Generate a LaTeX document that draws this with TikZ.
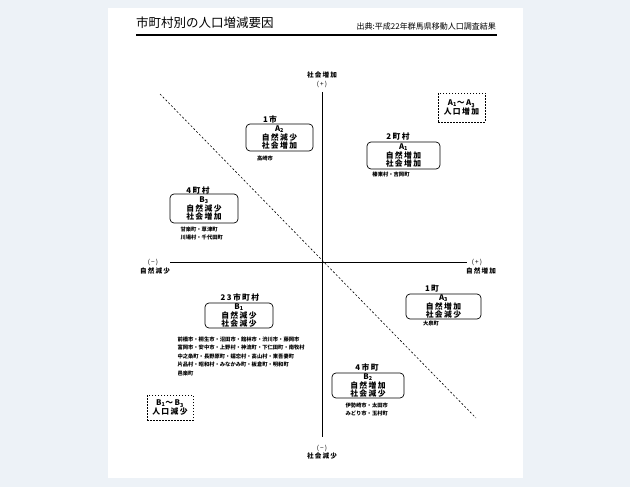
\documentclass[tikz,border=0pt]{standalone}
\usepackage{fontspec}
\usepackage{tikz}
\usetikzlibrary{positioning}
\newfontfamily\jpfont{Noto Sans CJK JP}
\newfontfamily\jpwide[LetterSpace=18]{Noto Sans CJK JP}
\newcommand{\jptitle}{\jpfont\fontsize{12.5}{14}\selectfont}
\newcommand{\jpsource}{\jpfont\fontsize{8}{9}\selectfont}
\newcommand{\jpbox}{\jpwide\bfseries\fontsize{7.8}{8.6}\selectfont}
\newcommand{\jpaxis}{\jpwide\bfseries\fontsize{6.6}{8}\selectfont}
\newcommand{\jpsmall}{\jpfont\bfseries\fontsize{5.3}{8.5}\selectfont}
\newcommand{\jptiny}{\jpwide\fontsize{6.5}{7}\selectfont}
\definecolor{pagebg}{RGB}{237,242,247}

\begin{document}
\begin{tikzpicture}[x=1pt, y=-1pt, >=latex,
  grpbox/.style={draw, line width=0.7pt, rounded corners=4pt, align=center,
    inner sep=0pt, font=\jpbox},
  grphead/.style={font=\jpbox},
  grpmember/.style={font=\jpsmall, align=left},
  axislabel/.style={font=\jpaxis, inner sep=0pt},
  axissign/.style={font=\jptiny, inner sep=0pt},
  totalbox/.style={draw, line width=0.6pt, dash pattern=on 1.5pt off 1.5pt,
    align=center, inner sep=0pt, font=\jpbox}]
  \useasboundingbox (0,0) rectangle (630,487);
  \fill[pagebg] (0,0) rectangle (630,487);
  \fill[white] (108,8) rectangle (523,478);
  % heading
  \node[font=\jptitle, anchor=west, inner sep=0pt] (title) at (136,23) {市町村別の人口増減要因};
  \node[font=\jpsource, anchor=east, inner sep=0pt] (source) at (496,26) {出典:平成22年群馬県移動人口調査結果};
  \coordinate (rulel) at (136,35);
  \coordinate (ruler) at (497,35);
  \draw[line width=2.2pt] (rulel) -- (ruler);
  % axes
  \coordinate (top) at (322,92);
  \coordinate (bottom) at (322,437);
  \coordinate (left) at (170,262);
  \coordinate (right) at (467,262);
  \coordinate (origin) at (322,262);
  \draw[line width=1pt] (top) -- (bottom);
  \draw[line width=1pt] (left) -- (right);
  \node[axislabel] (soup) at (322,75) {社会増加};
  \node[axissign] (souppl) at (322,84) {(+)};
  \node[axissign] (sodnmi) at (322,448) {(−)};
  \node[axislabel] (sodn) at (322,456) {社会減少};
  \node[axissign] (natdnmi) at (153,262) {(−)};
  \node[axislabel] (natdn) at (155,270.5) {自然減少};
  \node[axissign] (natuppl) at (477,262) {(+)};
  \node[axislabel] (natup) at (481,270.5) {自然増加};
  % dividing line between increase and decrease
  \coordinate (divs) at (160,94);
  \coordinate (dive) at (476,418);
  \draw[line width=0.6pt, dash pattern=on 2pt off 2pt] (divs) -- (dive);
  % A2
  \node[grpbox, minimum width=67pt, minimum height=27pt] (a2) at (279.5,137.5)
    {A\textsubscript{2}\\自然減少\\社会増加};
  \node[grphead] (a2head) at (270,119.5) {1市};
  \node[grpmember] (a2mem) at (265,158) {高崎市};
  % A1
  \node[grpbox, minimum width=73pt, minimum height=27pt] (a1) at (403.5,155.5)
    {A\textsubscript{1}\\自然増加\\社会増加};
  \node[grphead] (a1head) at (398,137) {2町村};
  \node[grpmember] (a1mem) at (391,174) {榛東村・吉岡町};
  % B3
  \node[grpbox, minimum width=68pt, minimum height=29pt] (b3) at (204,208.5)
    {B\textsubscript{3}\\自然減少\\社会増加};
  \node[grphead] (b3head) at (198,191) {4町村};
  \node[grpmember, anchor=north west] (b3mem) at (177,223)
    {甘楽町・草津町\\川場村・千代田町};
  % B1
  \node[grpbox, minimum width=68pt, minimum height=25pt] (b1) at (239,315.5)
    {B\textsubscript{1}\\自然減少\\社会減少};
  \node[grphead] (b1head) at (240,298) {23市町村};
  \node[grpmember, anchor=north west] (b1mem) at (174,333)
    {前橋市・桐生市・沼田市・館林市・渋川市・藤岡市\\
     富岡市・安中市・上野村・神流町・下仁田町・南牧村\\
     中之条町・長野原町・嬬恋村・高山村・東吾妻町\\
     片品村・昭和村・みなかみ町・板倉町・明和町\\
     邑楽町};
  % A3
  \node[grpbox, minimum width=75pt, minimum height=25pt] (a3) at (443.5,306.5)
    {A\textsubscript{3}\\自然増加\\社会減少};
  \node[grphead] (a3head) at (432,289) {1町};
  \node[grpmember] (a3mem) at (431,323) {大泉町};
  % B2
  \node[grpbox, minimum width=72pt, minimum height=25pt] (b2) at (368,385.5)
    {B\textsubscript{2}\\自然増加\\社会減少};
  \node[grphead] (b2head) at (367,368) {4市町};
  \node[grpmember, anchor=north west] (b2mem) at (342,399)
    {伊勢崎市・太田市\\みどり市・玉村町};
  % totals
  \node[totalbox, minimum width=47pt, minimum height=29pt] (atotal) at (461.5,107.5)
    {A\textsubscript{1}～A\textsubscript{3}\\人口増加};
  \node[totalbox, minimum width=46pt, minimum height=25pt] (btotal) at (170,407.5)
    {B\textsubscript{1}～B\textsubscript{3}\\人口減少};
\end{tikzpicture}
\end{document}
